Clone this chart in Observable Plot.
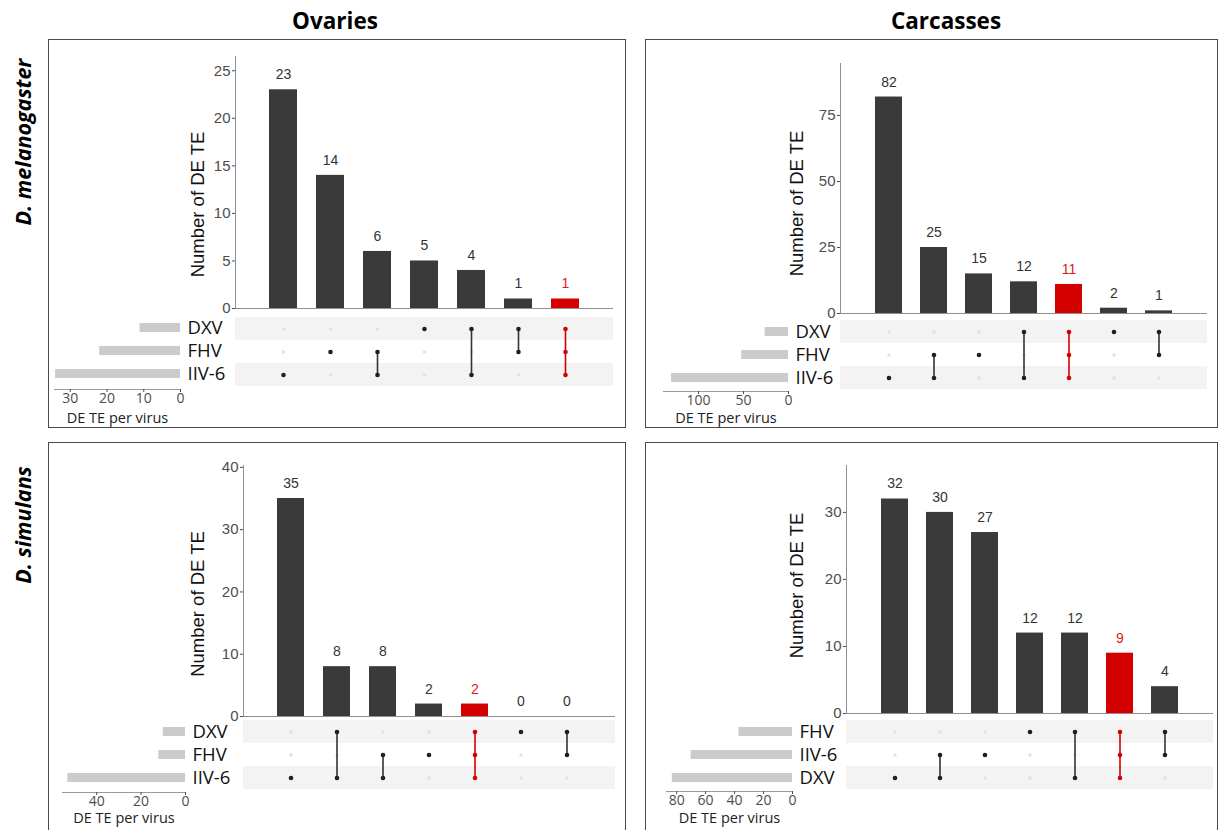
<!DOCTYPE html>
<html><head><meta charset="utf-8">
<script src="https://cdn.jsdelivr.net/npm/d3@7"></script>
<script src="https://cdn.jsdelivr.net/npm/@observablehq/plot@0.6"></script>
<style>
body{margin:0;background:#fff;}
#root{position:relative;width:1219px;height:830px;overflow:hidden;background:#fff;}
#root svg{position:absolute;left:0;top:0;}
.panel{position:absolute;border:1.3px solid #4a4a4a;box-sizing:border-box;}
.coltitle{position:absolute;font:bold 22.5px 'Open Sans',sans-serif;transform:translate(-50%,-50%);white-space:nowrap;color:#000;}
.rowtitle{position:absolute;font:italic bold 21.5px 'Open Sans',sans-serif;transform:translate(-50%,-50%) rotate(-90deg);white-space:nowrap;color:#000;}
</style></head>
<body><div id="root"></div>
<script>
// ---------- DATA ----------
const columnTitles = ["Ovaries", "Carcasses"];
const rowTitles = ["D. melanogaster", "D. simulans"];
const yTitle = "Number of DE TE";
const setAxisTitle = "DE TE per virus";

// Ovaries – D. melanogaster
const ovMelSets = ["DXV", "FHV", "IIV-6"];
const ovMelSetSizes = [11, 22, 34];
const ovMelCounts = [23, 14, 6, 5, 4, 1, 1];
const ovMelMembers = [["IIV-6"], ["FHV"], ["FHV", "IIV-6"], ["DXV"], ["DXV", "IIV-6"], ["DXV", "FHV"], ["DXV", "FHV", "IIV-6"]];
const ovMelHighlight = 6;
const ovMelYTicks = [0, 5, 10, 15, 20, 25];
const ovMelSizeTicks = [0, 10, 20, 30];

// Carcasses – D. melanogaster
const caMelSets = ["DXV", "FHV", "IIV-6"];
const caMelSetSizes = [26, 52, 130];
const caMelCounts = [82, 25, 15, 12, 11, 2, 1];
const caMelMembers = [["IIV-6"], ["FHV", "IIV-6"], ["FHV"], ["DXV", "IIV-6"], ["DXV", "FHV", "IIV-6"], ["DXV"], ["DXV", "FHV"]];
const caMelHighlight = 4;
const caMelYTicks = [0, 25, 50, 75];
const caMelSizeTicks = [0, 50, 100];

// Ovaries – D. simulans
const ovSimSets = ["DXV", "FHV", "IIV-6"];
const ovSimSetSizes = [10, 12, 53];
const ovSimCounts = [35, 8, 8, 2, 2, 0, 0];
const ovSimMembers = [["IIV-6"], ["DXV", "IIV-6"], ["FHV", "IIV-6"], ["FHV"], ["DXV", "FHV", "IIV-6"], ["DXV"], ["DXV", "FHV"]];
const ovSimHighlight = 4;
const ovSimYTicks = [0, 10, 20, 30, 40];
const ovSimSizeTicks = [0, 20, 40];

// Carcasses – D. simulans
const caSimSets = ["FHV", "IIV-6", "DXV"];
const caSimSetSizes = [37, 70, 83];
const caSimCounts = [32, 30, 27, 12, 12, 9, 4];
const caSimMembers = [["DXV"], ["IIV-6", "DXV"], ["IIV-6"], ["FHV"], ["FHV", "DXV"], ["FHV", "IIV-6", "DXV"], ["FHV", "IIV-6"]];
const caSimHighlight = 5;
const caSimYTicks = [0, 10, 20, 30];
const caSimSizeTicks = [0, 20, 40, 60, 80];

// ---------- LAYOUT ----------
const W = 1219, H = 830;
const RED = "#d40000", RED_TEXT = "#e3191b", DARK = "#3a3a3a";
const root = document.getElementById("root");

const panels = [
  {sets: ovMelSets, sizes: ovMelSetSizes, counts: ovMelCounts, members: ovMelMembers, hi: ovMelHighlight,
   yTicks: ovMelYTicks, sizeTicks: ovMelSizeTicks, yMax: 26.5, sizeMax: 34.3,
   box: [48, 39, 578, 389], bar: [235, 613, 56, 308], mat: [316, 386], size: [54, 180, 389], yt: [-37, 22], st: 29},
  {sets: caMelSets, sizes: caMelSetSizes, counts: caMelCounts, members: caMelMembers, hi: caMelHighlight,
   yTicks: caMelYTicks, sizeTicks: caMelSizeTicks, yMax: 94.7, sizeMax: 139,
   box: [645, 39, 573, 389], bar: [840, 1207, 63, 313], mat: [320, 389], size: [663, 788, 391], yt: [-43, 15], st: 27},
  {sets: ovSimSets, sizes: ovSimSetSizes, counts: ovSimCounts, members: ovSimMembers, hi: ovSimHighlight,
   yTicks: ovSimYTicks, sizeTicks: ovSimSizeTicks, yMax: 40.3, sizeMax: 55.4,
   box: [48, 442, 578, 400], bar: [243, 615, 465, 716], mat: [720, 789], size: [62, 185, 792], yt: [-45, 13], st: 26},
  {sets: caSimSets, sizes: caSimSetSizes, counts: caSimCounts, members: caSimMembers, hi: caSimHighlight,
   yTicks: caSimYTicks, sizeTicks: caSimSizeTicks, yMax: 37.0, sizeMax: 87,
   box: [645, 442, 573, 400], bar: [846, 1213, 465, 713], mat: [720, 789], size: [666, 792, 791], yt: [-49, -4], st: 27}
];

function addDiv(cls, text, left, top, w, h) {
  const d = document.createElement("div");
  d.className = cls;
  if (text) d.textContent = text;
  d.style.left = left + "px"; d.style.top = top + "px";
  if (w != null) { d.style.width = w + "px"; d.style.height = h + "px"; }
  root.appendChild(d);
}

panels.forEach(p => addDiv("panel", null, ...p.box));
addDiv("coltitle", columnTitles[0], 335, 20);
addDiv("coltitle", columnTitles[1], 946, 20);
addDiv("rowtitle", rowTitles[0], 22, 142);
addDiv("rowtitle", rowTitles[1], 22, 525);

function draw(p) {
  const xBand = {type: "band", domain: d3.range(p.counts.length), paddingInner: 0.41, paddingOuter: 0.7, axis: null};
  const [bx0, bx1, by0, by1] = p.bar;
  const [my0, my1] = p.mat;
  const [sx0, sx1, sAxis] = p.size;
  const transparent = {background: "transparent", fontFamily: "'Liberation Sans', Arial, sans-serif"};

  const bars = p.counts.map((c, i) => ({col: i, count: c, red: i === p.hi}));
  const cells = [];
  p.members.forEach((m, i) => p.sets.forEach(s => cells.push({col: i, set: s, on: m.includes(s), red: i === p.hi})));
  const links = p.members.map((m, i) => {
    const idx = m.map(s => p.sets.indexOf(s)).sort((a, b) => a - b);
    return {col: i, top: p.sets[idx[0]], bottom: p.sets[idx[idx.length - 1]], n: m.length, red: i === p.hi};
  }).filter(d => d.n > 1);
  const sizeData = p.sets.map((s, j) => ({set: s, size: p.sizes[j]}));

  const matPlot = Plot.plot({
    width: W, height: H, marginLeft: bx0, marginRight: W - bx1, marginTop: my0, marginBottom: H - my1,
    style: transparent,
    x: xBand,
    y: {type: "band", domain: p.sets, padding: 0, axis: null},
    color: {type: "identity"},
    marks: [
      Plot.cell(p.sets.filter((_, j) => j % 2 === 0), {y: d => d, fill: "#f3f3f3"}),
      Plot.dot(cells.filter(d => !d.on), {x: "col", y: "set", r: 1.8, fill: "#e2e2e2"}),
      Plot.link(links, {x1: "col", x2: "col", y1: "top", y2: "bottom", stroke: d => d.red ? RED : "#333", strokeWidth: 1.6}),
      Plot.dot(cells.filter(d => d.on), {x: "col", y: "set", r: 2.3, fill: d => d.red ? RED : "#1f1f1f"})
    ]
  });

  const barPlot = Plot.plot({
    width: W, height: H, marginLeft: bx0, marginRight: W - bx1, marginTop: by0, marginBottom: H - by1,
    style: transparent,
    x: xBand,
    y: {domain: [0, p.yMax]},
    color: {type: "identity"},
    marks: [
      Plot.axisY({ticks: p.yTicks, tickSize: 3, tickPadding: 2, fontSize: 15, color: "#4d4d4d", label: null}),
      Plot.frame({anchor: "left", stroke: "#8f8f8f"}),
      Plot.ruleY([0], {stroke: "#8f8f8f"}),
      Plot.barY(bars, {x: "col", y: "count", fill: d => d.red ? RED : DARK}),
      Plot.text(bars, {x: "col", y: "count", text: d => String(d.count), dy: -15, fontSize: 14, fill: d => d.red ? RED_TEXT : "#333"}),
      Plot.text([yTitle], {frameAnchor: "left", textAnchor: "middle", lineAnchor: "middle", rotate: -90, dx: p.yt[0], dy: p.yt[1], fontSize: 18.5, fill: "#111"})
    ]
  });

  const sizePlot = Plot.plot({
    width: W, height: H, marginLeft: sx0, marginRight: W - sx1, marginTop: my0, marginBottom: H - sAxis,
    style: {background: "transparent", fontFamily: "'Open Sans', sans-serif"},
    x: {domain: [0, p.sizeMax], reverse: true},
    y: {type: "band", domain: p.sets, range: [my0, my1], paddingInner: 0.6, paddingOuter: 0.3},
    marks: [
      Plot.barX(sizeData, {x: "size", y: "set", fill: "#cbcbcb"}),
      Plot.frame({anchor: "bottom", stroke: "#9a9a9a"}),
      Plot.axisX({ticks: p.sizeTicks, tickSize: 3, tickPadding: 1, fontSize: 14, color: "#4d4d4d", label: null}),
      Plot.axisY({anchor: "right", tickSize: 0, tickPadding: 7, fontSize: 18.5, color: "#111", label: null}),
      Plot.text([setAxisTitle], {frameAnchor: "bottom", lineAnchor: "middle", dy: p.st, fontSize: 14.5, fill: "#222"})
    ]
  });

  root.appendChild(matPlot);
  root.appendChild(barPlot);
  root.appendChild(sizePlot);
}

panels.forEach(draw);
</script>
</body></html>
